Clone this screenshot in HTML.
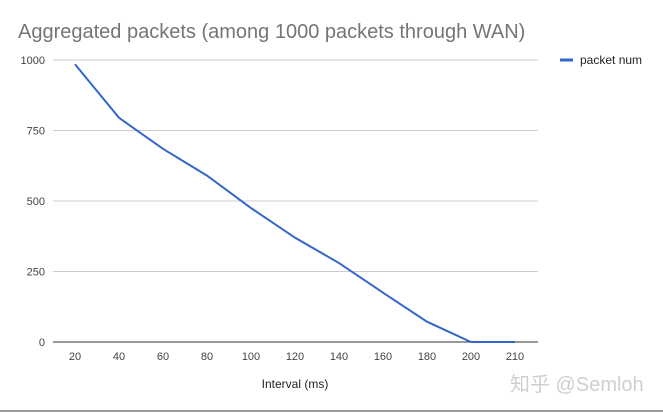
<!DOCTYPE html>
<html><head><meta charset="utf-8"><style>
body{margin:0;width:663px;height:413px;background:#fff;overflow:hidden;font-family:"Liberation Sans","Noto Sans CJK SC",sans-serif}
</style></head><body>
<svg id="c" width="663" height="413" style="position:absolute;left:0;top:0">
<text x="18" y="38" font-size="20" fill="#757575">Aggregated packets (among 1000 packets through WAN)</text>
<line x1="560" y1="60" x2="573" y2="60" stroke="#3366cc" stroke-width="3"/>
<text x="580" y="64" font-size="12" fill="#222">packet num</text>
<text x="295" y="388" text-anchor="middle" font-size="12" fill="#222">Interval (ms)</text>
<text x="510" y="391" font-size="20" fill="#cfcfcf">知乎 @Semloh</text>
<line x1="0" y1="411" x2="663" y2="411" stroke="#999" stroke-width="2"/>
<g id="g"></g>
</svg>
<script>
const categories=[20,40,60,80,100,120,140,160,180,200,210];
const values=[985,795,685,590,475,370,280,175,72,0,0];
const yTicks=[0,250,500,750,1000];
const ns="http://www.w3.org/2000/svg";
const g=document.getElementById('g');
const x=i=>75+i*44, y=v=>342-v*0.282;
function mk(t,a){const e=document.createElementNS(ns,t);for(const k in a)e.setAttribute(k,a[k]);g.appendChild(e);return e;}
yTicks.forEach(v=>{
 const l=mk('line',{x1:53,x2:538,y1:y(v),y2:y(v),stroke:v?'#ccc':'#333','stroke-width':1});
 
 
 const t=mk('text',{x:45,y:y(v)+4,'text-anchor':'end','font-size':11,fill:'#444'});t.textContent=v;
 
 
});
categories.forEach((c,i)=>{
 const t=mk('text',{x:x(i),y:360,'text-anchor':'middle','font-size':11,fill:'#444'});t.textContent=c;
 
 
});
const p=mk('polyline',{points:values.map((v,i)=>x(i)+','+y(v)).join(' '),fill:'none',stroke:'#3366cc','stroke-width':2});


</script>
</body></html>
